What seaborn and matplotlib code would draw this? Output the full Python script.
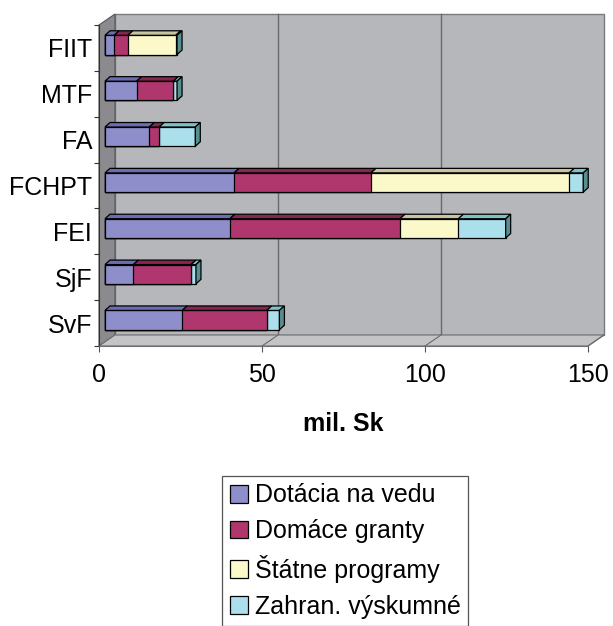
import numpy as np
import pandas as pd
import matplotlib
matplotlib.use("Agg")
import matplotlib.pyplot as plt
import matplotlib.transforms as mtransforms
from matplotlib.patches import Polygon, Rectangle
import seaborn as sns

# data (mil. Sk)
faculties = ["FIIT", "MTF", "FA", "FCHPT", "FEI", "SjF", "SvF"]
dotacia = [2.8, 9.7, 13.6, 39.6, 38.3, 8.7, 23.7]
domace = [4.2, 11.3, 3.0, 42.0, 52.2, 17.7, 25.9]
statne = [14.7, 0.0, 0.0, 60.8, 17.9, 0.0, 0.0]
zahran = [0.4, 1.1, 11.1, 4.3, 14.5, 1.5, 3.9]
series = ["Dotácia na vedu", "Domáce granty", "Štátne programy", "Zahran. výskumné"]
x_ticks = [0, 50, 100, 150]

colors = ["#8e8ecb", "#b0376e", "#fbf8c9", "#acdfec"]
top_colors = ["#6c6cb2", "#86264f", "#c6c5a0", "#7cc3c8"]
side_color = "#558f92"

df = pd.DataFrame({"Faculty": faculties, series[0]: dotacia, series[1]: domace,
                   series[2]: statne, series[3]: zahran})
cum = df[series].cumsum(axis=1)

plt.rcParams["font.family"] = ["Liberation Sans", "DejaVu Sans"]

fig = plt.figure(figsize=(6.13, 6.26), dpi=100)
W, H = 613, 626
ax = fig.add_axes([99 / W, 1 - 346 / H, (588 - 99) / W, (346 - 25) / H])
ax.set_facecolor("none")

# stacked bars: draw cumulative totals, longest first
for i in range(len(series) - 1, -1, -1):
    sns.barplot(data=cum.assign(Faculty=faculties), x=series[i], y="Faculty",
                orient="h", color=colors[i], saturation=1, width=0.42,
                edgecolor="black", linewidth=0.9, ax=ax, zorder=3)

ax.set_xlim(0, 150)
ax.set_ylim(len(faculties) - 0.5, -0.5)

# pseudo 3D geometry (pixels)
ax_w, ax_h = 588 - 99, 346 - 25
ppx = ax_w / 150
ppy = ax_h / len(faculties)
back_dx, back_dy = 16, 11
sx, sy = back_dx / ax_w, back_dy / ax_h
back_off = mtransforms.ScaledTranslation(back_dx / 100, back_dy / 100, fig.dpi_scale_trans)
bar_shift = ax.transData + mtransforms.ScaledTranslation(6 / 100, 3 / 100, fig.dpi_scale_trans)

# walls
ax.add_patch(Rectangle((0, 0), 1, 1, transform=ax.transAxes + back_off, facecolor="#b6b7bb",
                       edgecolor="#7a7a7e", linewidth=1.0, clip_on=False, zorder=0))
ax.add_patch(Polygon([(0, 0), (0, 1), (sx, 1 + sy), (sx, sy)], closed=True,
                     transform=ax.transAxes, facecolor="#8b8b8f", edgecolor="#555558",
                     linewidth=0.8, clip_on=False, zorder=1))
ax.add_patch(Polygon([(0, 0), (1, 0), (1 + sx, sy), (sx, sy)], closed=True,
                     transform=ax.transAxes, facecolor="#c4c4c7", edgecolor="#6e6e72",
                     linewidth=0.8, clip_on=False, zorder=1))
xt = ax.get_xaxis_transform()
for t in x_ticks[1:-1]:
    ax.plot([t, t], [0, 1], transform=xt + back_off,
            color="#6a6a6e", linewidth=1.0, zorder=0.5, clip_on=False)
for t in x_ticks[1:]:
    ax.plot([t, t + back_dx / ppx], [0, sy], transform=xt, color="#6a6a6e",
            linewidth=0.8, zorder=1.5, clip_on=False)

# shift bars into the box, add top and side faces
for p in ax.patches:
    if p.get_zorder() == 3:
        p.set_transform(bar_shift)
ddx, ddy = 5 / ppx, 4.5 / ppy
half = 0.21
for j in range(len(faculties)):
    yt, yb = j - half, j + half
    x0 = 0.0
    for i, s in enumerate(series):
        x1 = cum.loc[j, s]
        if x1 > x0:
            ax.add_patch(Polygon([(x0, yt), (x1, yt), (x1 + ddx, yt - ddy), (x0 + ddx, yt - ddy)],
                                 closed=True, transform=bar_shift, facecolor=top_colors[i],
                                 edgecolor="black", linewidth=0.9, zorder=4, clip_on=False))
        x0 = x1
    ax.add_patch(Polygon([(x0, yt), (x0 + ddx, yt - ddy), (x0 + ddx, yb - ddy), (x0, yb)],
                         closed=True, transform=bar_shift, facecolor=side_color,
                         edgecolor="black", linewidth=0.9, zorder=4, clip_on=False))

# axes styling
for side in ["top", "right"]:
    ax.spines[side].set_visible(False)
ax.spines["left"].set_color("#333333")
ax.spines["left"].set_zorder(2)
ax.spines["bottom"].set_color("#6e6e72")
ax.spines["bottom"].set_linewidth(0.8)

ax.set_xticks(x_ticks)
ax.set_xticklabels([str(t) for t in x_ticks])
ax.tick_params(axis="x", length=4.3, width=0.8, color="#555555", pad=8, labelsize=18)
ax.set_yticks(range(len(faculties)))
ax.set_yticklabels(faculties)
ax.set_yticks(np.arange(-0.5, len(faculties), 1), minor=True)
ax.tick_params(axis="y", which="major", length=0, pad=5, labelsize=18)
ax.tick_params(axis="y", which="minor", length=3.6, width=0.8, color="#333333")
ax.set_ylabel("")
ax.set_xlabel("mil. Sk", fontsize=18, fontweight="bold", labelpad=18)

handles = [Rectangle((0, 0), 1, 1, facecolor=c, edgecolor="black", linewidth=0.9) for c in colors]
leg = fig.legend(handles, series, loc="upper left", bbox_to_anchor=(222 / W, 1 - 476 / H),
                 fontsize=18, handlelength=0.72, handleheight=0.72, handletextpad=0.3,
                 labelspacing=0.47, borderpad=0.3, borderaxespad=0, fancybox=False,
                 edgecolor="#555555", framealpha=1)
leg.get_frame().set_linewidth(0.9)

fig.savefig("out.png", dpi=100)
